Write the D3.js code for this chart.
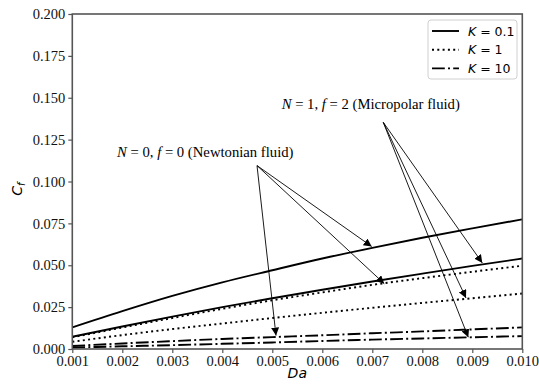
<!DOCTYPE html>
<html><head><meta charset="utf-8">
<script src="https://cdn.jsdelivr.net/npm/d3@7"></script>
<style>body{margin:0;background:#fff}svg{display:block}</style>
</head><body>
<script>
const daValues = [0.001,0.002,0.003,0.004,0.005,0.006,0.007,0.008,0.009,0.010];
const newtonianK01 = [0.0129,0.0226,0.0317,0.0398,0.0470,0.0540,0.0604,0.0664,0.0720,0.0774];
const micropolarK01 = [0.0073,0.0134,0.0193,0.0250,0.0303,0.0354,0.0403,0.0450,0.0496,0.0540];
const newtonianK1 = [0.0070,0.0128,0.0185,0.0240,0.0291,0.0338,0.0383,0.0423,0.0461,0.0497];
const micropolarK1 = [0.0043,0.0083,0.0119,0.0152,0.0185,0.0216,0.0246,0.0275,0.0303,0.0331];
const newtonianK10 = [0.0018,0.0033,0.0047,0.0060,0.0071,0.0082,0.0094,0.0105,0.0117,0.0129];
const micropolarK10 = [0.0009,0.0016,0.0023,0.0031,0.0039,0.0048,0.0056,0.0063,0.0070,0.0077];
const xTicks = [0.001,0.002,0.003,0.004,0.005,0.006,0.007,0.008,0.009,0.010];
const yTicks = [0,0.025,0.05,0.075,0.1,0.125,0.15,0.175,0.2];
const legendLabels = ["0.1","1","10"];
// annotation anchors (data coords)
const newtonOrigin = [0.004694,0.1095];
const newtonTargets = [[0.006988,0.0612],[0.00724,0.0390],[0.005074,0.0080]];
const microOrigin = [0.00722,0.1353];
const microTargets = [[0.0092,0.0514],[0.008874,0.0305],[0.00892,0.0070]];

const W=539,H=389;
const m={l:72.3,r:539-522.3,t:14,b:389-349};
const svg=d3.select("body").append("svg").attr("width",W).attr("height",H);
const x=d3.scaleLinear().domain([0.001,0.010]).range([m.l,W-m.r]);
const y=d3.scaleLinear().domain([0,0.2]).range([H-m.b,m.t]);

const defs=svg.append("defs");
defs.append("clipPath").attr("id","clip").append("rect")
  .attr("x",m.l).attr("y",m.t).attr("width",W-m.r-m.l).attr("height",H-m.b-m.t);
defs.append("marker").attr("id","ah").attr("viewBox","0 0 10 10").attr("refX",10).attr("refY",5)
  .attr("markerWidth",8).attr("markerHeight",8).attr("markerUnits","userSpaceOnUse").attr("orient","auto")
  .append("path").attr("d","M0,0 L10,5 L0,10 z").attr("fill","#000");

const styles={solid:null,dot:"2,3.3",dashdot:"12.8,3.2,2,3.2"};
const series=[
 {v:newtonianK01,s:"solid"},{v:micropolarK01,s:"solid"},
 {v:newtonianK1,s:"dot"},{v:micropolarK1,s:"dot"},
 {v:newtonianK10,s:"dashdot"},{v:micropolarK10,s:"dashdot"}];
const line=d3.line().x((d,i)=>x(daValues[i])).y(d=>y(d)).curve(d3.curveMonotoneX);
const g=svg.append("g").attr("clip-path","url(#clip)");
series.forEach(sr=>{
  g.append("path").attr("d",line(sr.v)).attr("fill","none").attr("stroke","#000")
   .attr("stroke-width",1.9).attr("stroke-dasharray",styles[sr.s]);
});

// axes
const serif="'Liberation Serif', 'Times New Roman', Times, serif";
const xa=svg.append("g").attr("transform",`translate(0,${H-m.b})`)
  .call(d3.axisBottom(x).tickValues(xTicks).tickFormat(d3.format(".3f")).tickSize(4).tickPadding(3));
const ya=svg.append("g").attr("transform",`translate(${m.l},0)`)
  .call(d3.axisLeft(y).tickValues(yTicks).tickFormat(d3.format(".3f")).tickSize(4).tickPadding(3));
[xa,ya].forEach(a=>{a.select(".domain").remove();
  a.attr("font-family",null).attr("font-size",null);
  a.selectAll("text").style("font-family",serif).style("font-size","14.5px").attr("fill","#111");
  a.selectAll("line").attr("stroke","#555").attr("stroke-width",1.2);});
svg.append("rect").attr("x",m.l).attr("y",m.t).attr("width",W-m.r-m.l).attr("height",H-m.b-m.t)
  .attr("fill","none").attr("stroke","#555").attr("stroke-width",1.6);

// axis labels
svg.append("text").attr("x",(m.l+W-m.r)/2).attr("y",378).attr("text-anchor","middle")
  .attr("font-family","'DejaVu Sans',sans-serif").attr("font-style","italic").attr("font-size",14).text("Da");
const yl=svg.append("text").attr("transform",`translate(22,189) rotate(-90)`).attr("text-anchor","middle")
  .attr("font-family","'DejaVu Sans',sans-serif").attr("font-style","italic").attr("font-size",14);
yl.append("tspan").text("C");
yl.append("tspan").attr("font-size",10).attr("dy",3).text("f");

// annotations
function ann(origin,targets,label,tx,ty){
  targets.forEach(t=>{
    svg.append("line").attr("x1",x(origin[0])).attr("y1",y(origin[1]))
      .attr("x2",x(t[0])).attr("y2",y(t[1])).attr("stroke","#000").attr("stroke-width",0.9)
      .attr("marker-end","url(#ah)");
  });
  const t=svg.append("text").attr("x",x(tx)).attr("y",y(ty)).style("font-family",serif).style("font-size","14.7px").attr("fill","#000");
  label.forEach(p=>t.append("tspan").attr("font-style",p[1]?"italic":"normal").text(p[0]));
}
ann(newtonOrigin,newtonTargets,[["N",1],[" = 0, ",0],["f",1],[" = 0 (Newtonian fluid)",0]],0.001894,0.1149);
ann(microOrigin,microTargets,[["N",1],[" = 1, ",0],["f",1],[" = 2 (Micropolar fluid)",0]],0.005188,0.1435);

// legend
const lg=svg.append("g");
lg.append("rect").attr("x",428).attr("y",20).attr("width",89).attr("height",59).attr("rx",3)
  .attr("fill","#fff").attr("stroke","#d0d0d0").attr("stroke-width",1);
const legStyles=["solid","dot","dashdot"];
legendLabels.forEach((lab,i)=>{
  const yy=31+i*18.7;
  lg.append("line").attr("x1",432).attr("x2",459).attr("y1",yy).attr("y2",yy).attr("stroke","#000")
    .attr("stroke-width",1.9).attr("stroke-dasharray",styles[legStyles[i]]);
  const t=lg.append("text").attr("x",468).attr("y",yy+4.5).attr("font-family","'DejaVu Sans',sans-serif").attr("font-size",12.5);
  t.append("tspan").attr("font-style","italic").text("K");
  t.append("tspan").text(" = "+lab);
});
</script>
</body></html>
